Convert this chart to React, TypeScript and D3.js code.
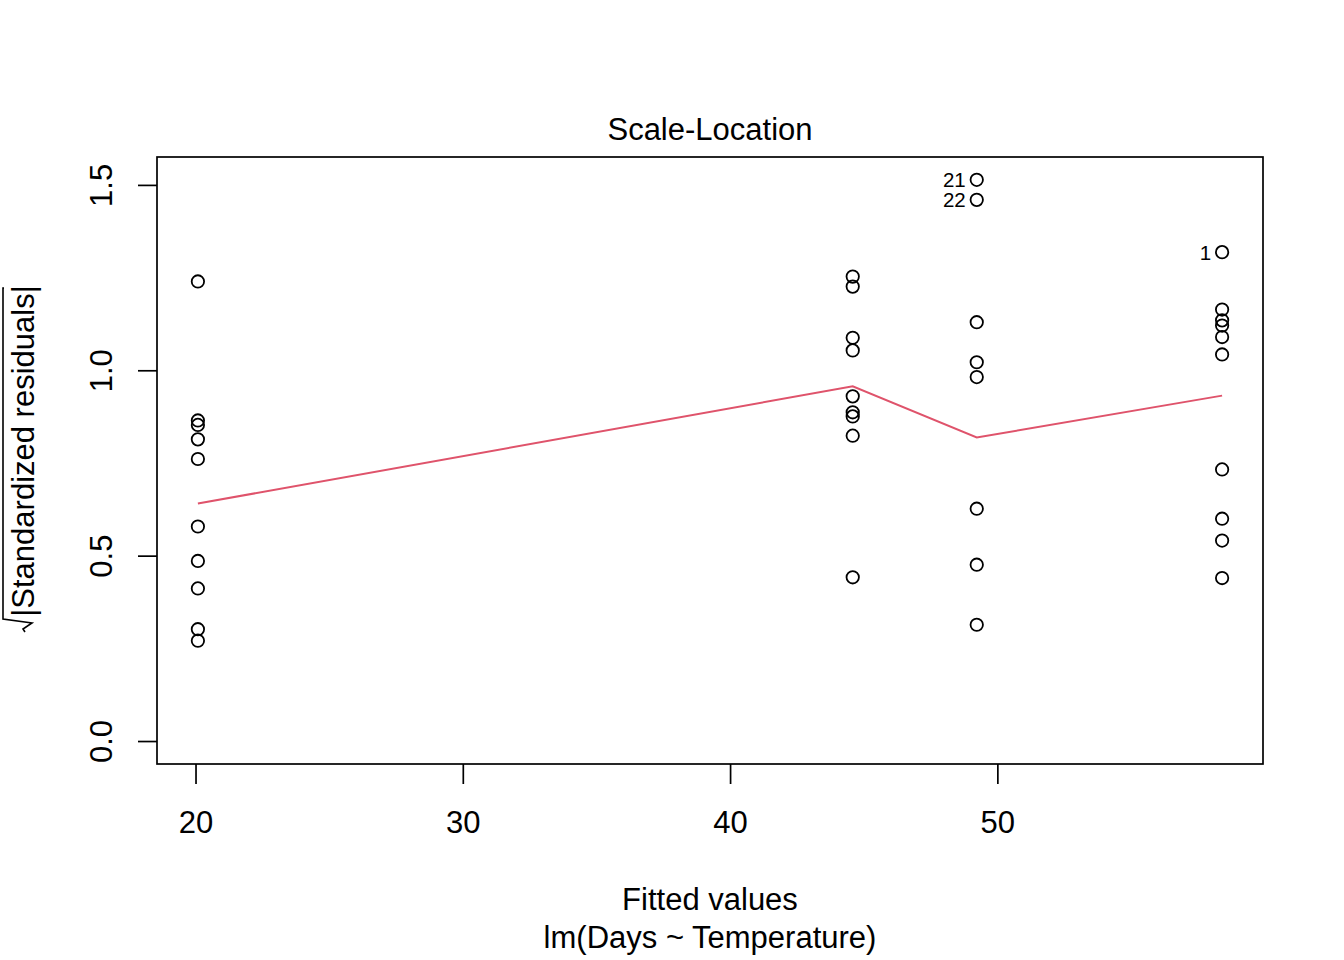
import React from "react";
import * as d3 from "d3";

const fittedLevels = [20.07, 44.57, 49.21, 58.39];
const cluster1 = [1.241, 0.866, 0.854, 0.815, 0.762, 0.58, 0.487, 0.413, 0.303, 0.272];
const cluster2 = [1.254, 1.227, 1.089, 1.055, 0.931, 0.888, 0.877, 0.825, 0.443];
const cluster3 = [1.515, 1.461, 1.131, 1.023, 0.983, 0.628, 0.477, 0.315];
const cluster4 = [1.32, 1.165, 1.136, 1.122, 1.091, 1.044, 0.734, 0.601, 0.542, 0.441];
const clusters = [cluster1, cluster2, cluster3, cluster4];

const smoothX = [20.07, 44.57, 49.21, 58.39];
const smoothY = [0.642, 0.958, 0.82, 0.933];

const idLabels = [
  { id: "21", x: 49.21, y: 1.515 },
  { id: "22", x: 49.21, y: 1.461 },
  { id: "1", x: 58.39, y: 1.32 },
];

const xTicks = [20, 30, 40, 50];
const yTicks = [0, 0.5, 1.0, 1.5];
const yTickLabels = ["0.0", "0.5", "1.0", "1.5"];

const title = "Scale-Location";
const xLabel = "Fitted values";
const subLabel = "lm(Days ~ Temperature)";
const yLabel = "|Standardized residuals|";

const FONT = "'Liberation Sans', Arial, Helvetica, sans-serif";
const FS = 31;

export default function App() {
  const left = 157, right = 1263, top = 157, bottom = 764;
  const x = d3.scaleLinear().domain([18.54, 59.92]).range([left, right]);
  const y = d3.scaleLinear().domain([-0.0606, 1.5766]).range([bottom, top]);

  const points: { fx: number; v: number }[] = [];
  clusters.forEach((c, i) => c.forEach((v) => points.push({ fx: fittedLevels[i], v })));

  const line = d3
    .line<number>()
    .x((_, i) => x(smoothX[i]))
    .y((d) => y(d));

  const ylabCenter = 451;

  return (
    <svg
      width={1344}
      height={960}
      style={{ position: "absolute", left: 0, top: 0, background: "#fff" }}
      fontFamily={FONT}
    >
      <rect x={0} y={0} width={1344} height={960} fill="#fff" />
      <text x={(left + right) / 2} y={140} textAnchor="middle" fontSize={FS}>
        {title}
      </text>
      <rect x={left} y={top} width={right - left} height={bottom - top} fill="none" stroke="#000" strokeWidth={1.7} />
      {xTicks.map((t) => (
        <g key={"xt" + t}>
          <line x1={x(t)} x2={x(t)} y1={bottom} y2={784} stroke="#000" strokeWidth={1.7} />
          <text x={x(t)} y={833} textAnchor="middle" fontSize={FS}>
            {t}
          </text>
        </g>
      ))}
      {yTicks.map((t, i) => (
        <g key={"yt" + t}>
          <line x1={left} x2={138} y1={y(t)} y2={y(t)} stroke="#000" strokeWidth={1.7} />
          <text transform={`translate(${112},${y(t)}) rotate(-90)`} textAnchor="middle" fontSize={FS}>
            {yTickLabels[i]}
          </text>
        </g>
      ))}
      <text x={(left + right) / 2} y={910} textAnchor="middle" fontSize={FS}>
        {xLabel}
      </text>
      <text x={(left + right) / 2} y={948} textAnchor="middle" fontSize={FS}>
        {subLabel}
      </text>
      <text transform={`translate(34,${ylabCenter}) rotate(-90)`} textAnchor="middle" fontSize={FS}>
        {yLabel}
      </text>
      <path
        d="M 4,288 L 3,288 L 3,619 L 32,623 L 23,629 L 25,632"
        fill="none"
        stroke="#000"
        strokeWidth={1.6}
      />
      <path d={line(smoothY) || ""} fill="none" stroke="#DF536B" strokeWidth={2} />
      {points.map((p, i) => (
        <circle key={i} cx={x(p.fx)} cy={y(p.v)} r={6.2} fill="none" stroke="#000" strokeWidth={1.8} />
      ))}
      {idLabels.map((l) => (
        <text key={l.id} x={x(l.x) - 11} y={y(l.y) + 7.5} textAnchor="end" fontSize={20.5}>
          {l.id}
        </text>
      ))}
    </svg>
  );
}
